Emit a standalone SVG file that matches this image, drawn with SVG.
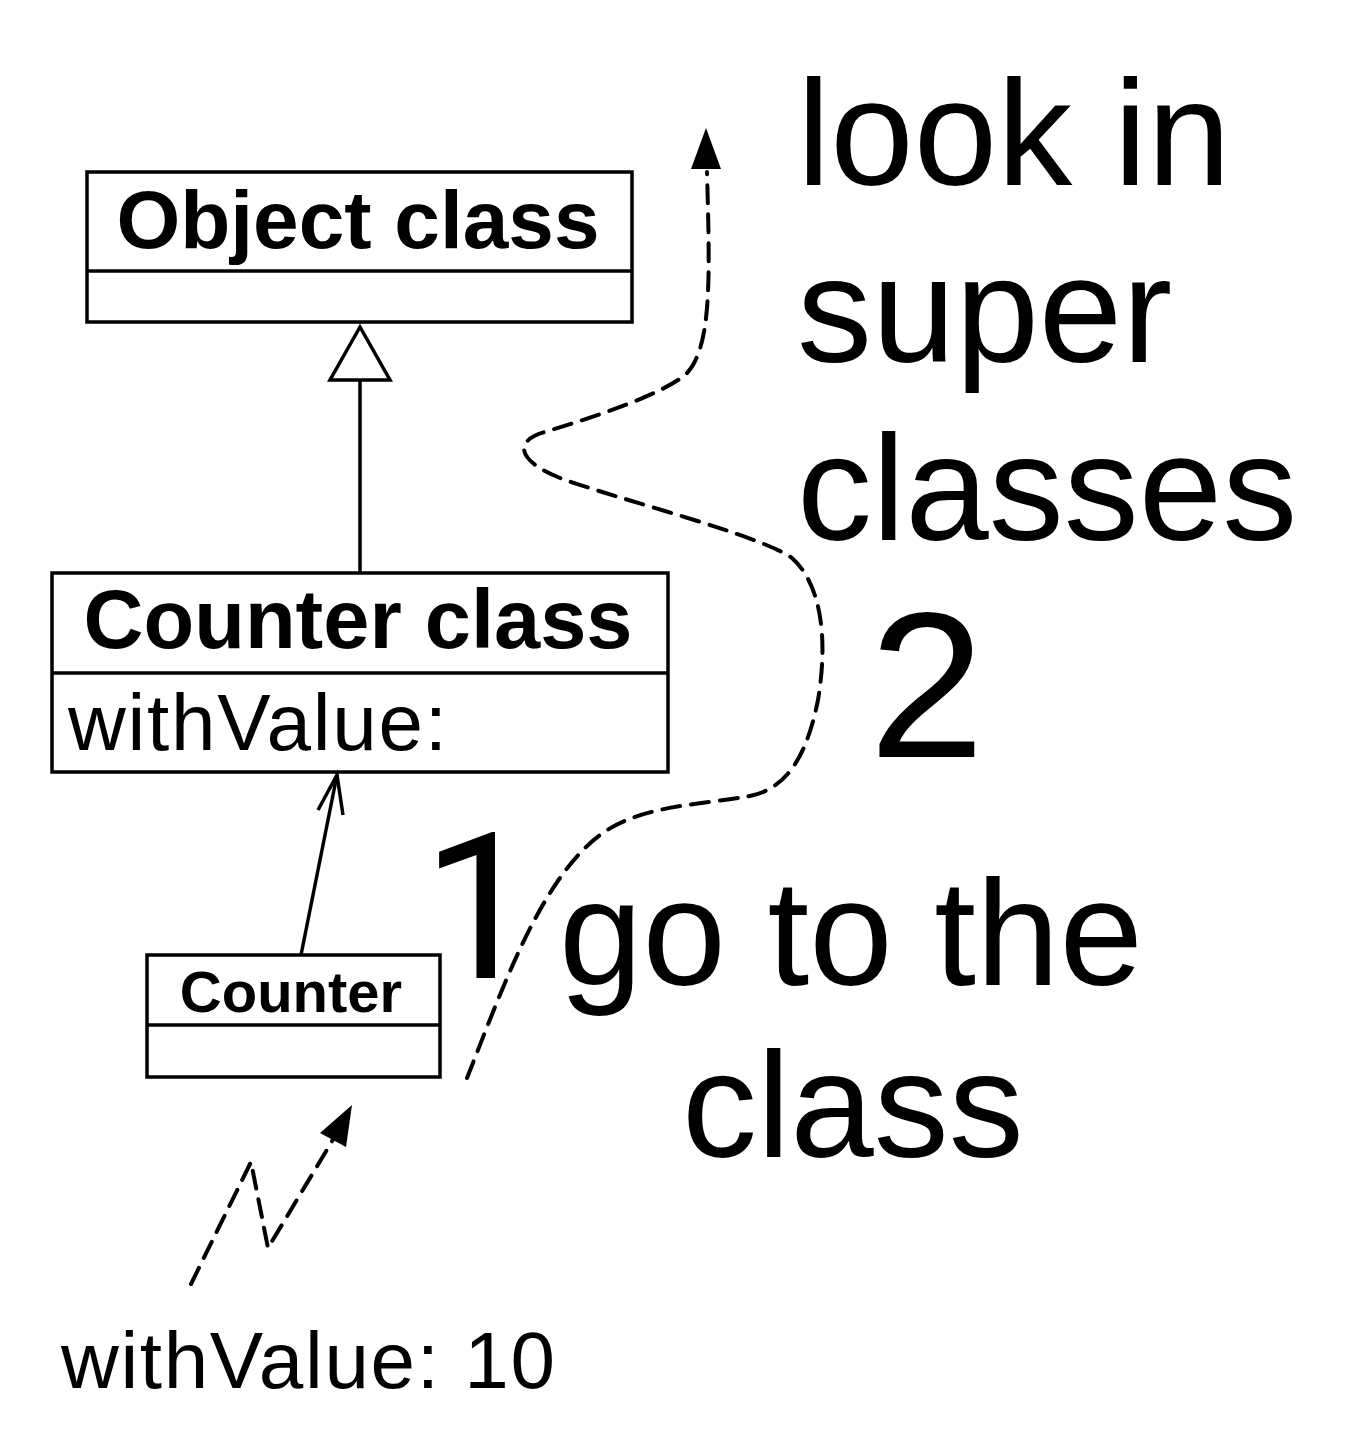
<svg xmlns="http://www.w3.org/2000/svg" width="1362" height="1449" viewBox="0 0 1362 1449">
<style>
.box{fill:#fff;stroke:#000;stroke-width:3.5}
.ln{fill:none;stroke:#000;stroke-width:3.5}
.dash{fill:none;stroke:#000;stroke-width:4;stroke-dasharray:18 11;stroke-linecap:round}
.head{fill:#000;stroke:none}
.b{font-family:"Liberation Sans",Arial,sans-serif;font-weight:bold;fill:#000}
.r{font-family:"Liberation Sans",Arial,sans-serif;fill:#000}
</style>
<rect width="1362" height="1449" fill="#fff"/>
<g id="object-class">
<rect class="box" x="87" y="172" width="545" height="150"/>
<line class="ln" x1="87" y1="271" x2="632" y2="271"/>
<text class="b" x="358" y="248" font-size="82" text-anchor="middle">Object class</text>
</g>
<g id="counter-class">
<rect class="box" x="52" y="573" width="616" height="199"/>
<line class="ln" x1="52" y1="673" x2="668" y2="673"/>
<text class="b" x="358" y="648" font-size="83" text-anchor="middle">Counter class</text>
<text class="r" x="68" y="750" font-size="80" textLength="379" lengthAdjust="spacing">withValue:</text>
</g>
<g id="counter">
<rect class="box" x="147" y="955" width="293" height="122"/>
<line class="ln" x1="147" y1="1025" x2="440" y2="1025"/>
<text class="b" x="291" y="1012" font-size="58" text-anchor="middle">Counter</text>
</g>
<g id="connectors">
<line class="ln" x1="360" y1="380" x2="360" y2="573"/>
<polygon class="box" points="360,327 330,380 390,380"/>
<line class="ln" x1="301" y1="955" x2="337" y2="775"/>
<polyline class="ln" points="318,810 337,775 343,815"/>
<path class="dash" d="M 467 1078 C 502 990, 540 880, 600 835 C 640 805, 700 805, 750 796 C 790 788, 808 750, 818 700 C 828 640, 822 585, 792 558 C 760 535, 620 500, 560 478 C 515 460, 515 440, 545 432 C 600 415, 660 395, 685 375 C 712 350, 710 280, 707 172"/>
<polygon class="head" points="706,128 691,169 721,169"/>
<path class="dash" d="M 191 1284 L 251 1162 L 268 1248 L 334 1138"/>
<polygon class="head" points="352,1105 320,1133 346,1147"/>
</g>
<g id="labels">
<text class="r" x="797" y="185" font-size="150">look in</text>
<text class="r" x="797" y="362" font-size="150">super</text>
<text class="r" x="797" y="540" font-size="150">classes</text>
<text class="r" x="869" y="757" font-size="208">2</text>
<text x="422" y="978" font-size="205" font-family="Roboto, 'Liberation Sans', sans-serif" fill="#000">1</text>
<text class="r" x="559" y="985" font-size="150">go to the</text>
<text class="r" x="682" y="1157" font-size="150">class</text>
<text class="r" x="61" y="1388" font-size="80" textLength="494" lengthAdjust="spacing">withValue: 10</text>
</g>
</svg>
